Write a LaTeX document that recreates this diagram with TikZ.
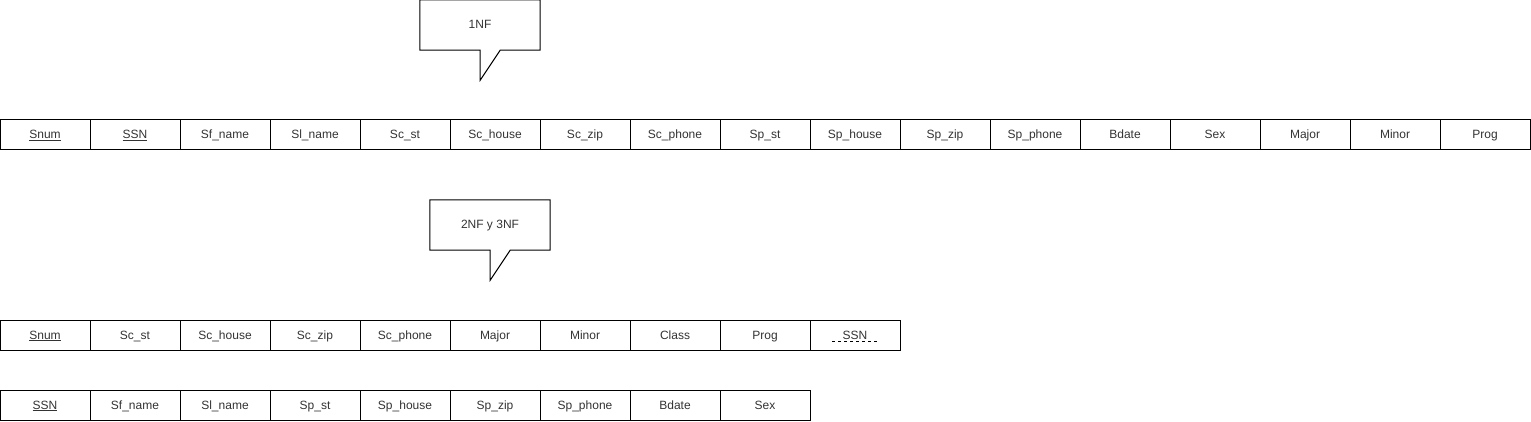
\documentclass[tikz,border=0pt]{standalone}
\usepackage{fontspec}
\setmainfont{Liberation Sans}
\usepackage{tikz}
\usetikzlibrary{positioning}

\tikzset{
  cell/.style = {draw, line width=1pt, minimum width=90pt, minimum height=30pt,
                 inner sep=0pt, text height=9.6pt, text depth=1.6pt,
                 font=\fontsize{12}{14}\selectfont, text=black!80},
  calltext/.style = {minimum width=120pt, minimum height=50pt, inner sep=0pt,
                     text height=9.6pt, text depth=1.6pt,
                     font=\fontsize{12}{14}\selectfont, text=black!80},
  callline/.style = {line width=1pt, line join=miter}
}

\begin{document}
\begin{tikzpicture}[x=1pt, y=-1pt]
  \useasboundingbox (0,0) rectangle (1531,422);

  % 1NF table
  \foreach \lbl [count=\i] in {\underline{Snum},\underline{SSN},Sf\_name,Sl\_name,Sc\_st,Sc\_house,Sc\_zip,Sc\_phone,Sp\_st,Sp\_house,Sp\_zip,Sp\_phone,Bdate,Sex,Major,Minor,Prog}
    \node[cell] (r1c\i) at ({90*\i-45},135) {\lbl};

  % 2NF y 3NF tables
  \foreach \lbl [count=\i] in {\underline{Snum},Sc\_st,Sc\_house,Sc\_zip,Sc\_phone,Major,Minor,Class,Prog,SSN}
    \node[cell] (r2c\i) at ({90*\i-45},335) {\lbl};
  \draw[line width=0.8pt, dash pattern=on 3pt off 3pt] ([xshift=-23pt,yshift=-2pt]r2c10.base) -- ++(46,0);

  \foreach \lbl [count=\i] in {\underline{SSN},Sf\_name,Sl\_name,Sp\_st,Sp\_house,Sp\_zip,Sp\_phone,Bdate,Sex}
    \node[cell] (r3c\i) at ({90*\i-45},405) {\lbl};

  % callouts
  \node[calltext] (nf1) at (480,25) {1NF};
  \draw[callline] (nf1.north west) -- (nf1.north east) -- (nf1.south east)
    -- ++(-40,0) -- ++(-20,30) -- ++(0,-30) -- (nf1.south west) -- cycle;

  \node[calltext] (nf23) at (490,225) {2NF y 3NF};
  \draw[callline] (nf23.north west) -- (nf23.north east) -- (nf23.south east)
    -- ++(-40,0) -- ++(-20,30) -- ++(0,-30) -- (nf23.south west) -- cycle;
\end{tikzpicture}
\end{document}
